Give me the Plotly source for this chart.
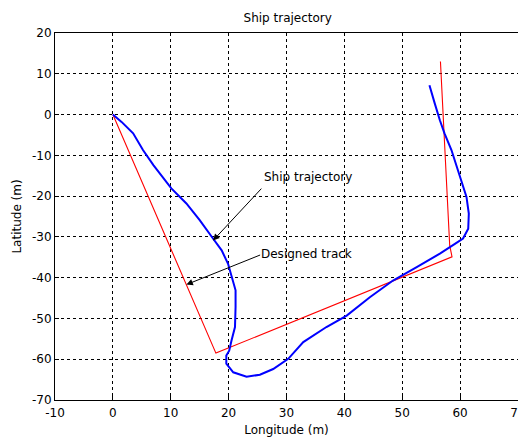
import plotly.graph_objects as go

# Designed track (red)
track_lon = [0.0, 17.8, 58.6, 58.2, 56.6]
track_lat = [0.0, -58.5, -34.9, -32.1, 13.0]

# Ship trajectory (blue)
ship_lon = [0.0, 1.5, 3.5, 5.2, 7.0, 8.6, 10.1, 12.7, 15.0, 17.3, 18.8, 19.9, 20.8, 21.2, 21.2, 21.1,
            20.5, 20.1, 19.6, 19.6, 20.8, 23.1, 25.4, 27.7, 30.3, 32.9, 36.9, 40.4, 44.4,
            48.4, 52.5, 56.5, 59.1, 60.5, 61.4, 61.5, 61.1, 60.2, 59.4, 58.5, 57.3, 56.5,
            55.6, 54.7]
ship_lat = [0.0, -1.8, -4.6, -8.7, -12.4, -15.4, -18.1, -21.8, -25.9, -30.4, -33.3, -36.6, -40.7, -43.1,
            -47.2, -52.1, -55.4, -57.9, -59.1, -61.1, -63.2, -64.3, -63.8, -62.4, -59.9,
            -55.8, -52.1, -49.3, -44.8, -40.7, -37.4, -34.1, -31.7, -30.4, -28.0, -24.3,
            -20.2, -16.1, -12.8, -8.7, -4.6, -1.4, 2.8, 7.2]

x_ticks = [-10, 0, 10, 20, 30, 40, 50, 60, 70]
y_ticks = [20, 10, 0, -10, -20, -30, -40, -50, -60, -70]

# Annotations: (text, tail lon, tail lat, head lon, head lat)
labels = ["Ship trajectory", "Designed track"]
tails = [(25.9, -17.8), (25.7, -34.3)]
heads = [(17.3, -30.9), (12.7, -41.7)]
text_pos = [(25.8, -15.3), (25.3, -34.1)]

FONT = "DejaVu Sans"
FS = 12

fig = go.Figure()
fig.add_trace(go.Scatter(x=track_lon, y=track_lat, mode="lines",
                         line=dict(color="#ff0000", width=1.1), showlegend=False))
fig.add_trace(go.Scatter(x=ship_lon, y=ship_lat, mode="lines",
                         line=dict(color="#0000ff", width=2), showlegend=False))

for lab, (tx, ty), (hx, hy), (px, py) in zip(labels, tails, heads, text_pos):
    fig.add_annotation(x=hx, y=hy, ax=tx, ay=ty, axref="x", ayref="y", xref="x", yref="y",
                       text="", showarrow=True, arrowhead=2, arrowsize=1.3,
                       arrowwidth=1, arrowcolor="black")
    fig.add_annotation(x=px, y=py, xref="x", yref="y", text=lab, showarrow=False,
                       xanchor="left", yanchor="middle",
                       font=dict(family=FONT, size=FS, color="black"))

axis_common = dict(showgrid=True, gridcolor="black", gridwidth=1, griddash="3px,3px",
                   showline=True, linecolor="black", linewidth=1, mirror=True,
                   ticks="inside", ticklen=4, tickcolor="black", zeroline=False,
                   automargin=False,
                   tickfont=dict(family=FONT, size=FS, color="black"))

fig.update_xaxes(range=[-10, 70], tickvals=x_ticks, ticktext=[str(v) for v in x_ticks],
                 ticklabelstandoff=2,
                 title=dict(text="Longitude (m)", standoff=7,
                            font=dict(family=FONT, size=FS, color="black")),
                 **axis_common)
fig.update_yaxes(range=[-70, 20], tickvals=y_ticks, ticktext=[str(v) for v in y_ticks],
                 title=dict(text="Latitude (m)", standoff=7,
                            font=dict(family=FONT, size=FS, color="black")),
                 **axis_common)

# page body has an 8px margin, so the figure is offset by (8, 8)
fig.update_layout(
    width=518, height=429,
    margin=dict(l=47, r=8, t=25, b=37),
    paper_bgcolor="white", plot_bgcolor="white",
    title=dict(text="Ship trajectory", x=0.54, xanchor="center", y=0.978, yanchor="middle",
               font=dict(family=FONT, size=FS, color="black")),
)

fig.write_html("out.html")
